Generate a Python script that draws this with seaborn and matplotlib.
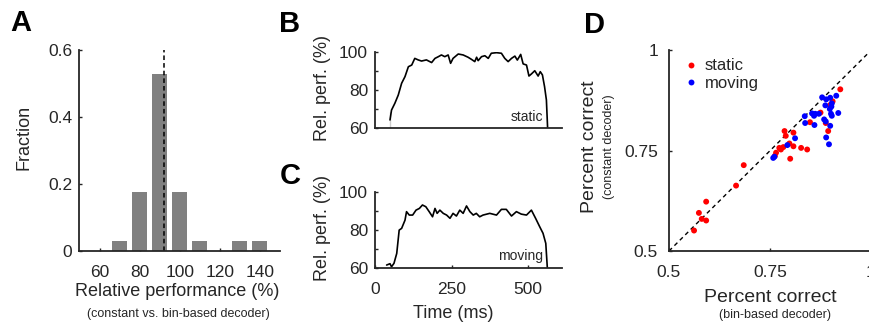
import numpy as np
import pandas as pd
import matplotlib
matplotlib.use("Agg")
import matplotlib.pyplot as plt
import seaborn as sns

# ---- A: distribution of relative performance ----
perf_bins = [60, 70, 80, 90, 100, 110, 120, 130, 140]
perf_counts = [0, 1, 6, 18, 6, 1, 0, 1, 1]
perf_median = 92.2

# ---- B: relative performance over time, static stimuli ----
static_t = [49, 49, 54, 65, 76, 87, 98, 109, 120, 130, 141, 152, 168, 185, 196,
            207, 217, 228, 239, 247, 255, 272, 288, 304, 315, 326, 332, 337, 348,
            359, 370, 380, 397, 413, 424, 435, 446, 457, 465, 476, 484, 495, 503,
            511, 522, 533, 540, 547, 554, 560, 564]
static_v = [60, 68.8, 69.6, 73.2, 77.5, 83.7, 87.2, 92.4, 93.3, 96.8, 96.0, 95.4,
            96.0, 94.6, 96.8, 97.7, 98.6, 97.7, 98.6, 94.2, 96.8, 99.1, 98.6, 97.4,
            96.3, 95.1, 97.4, 95.6, 97.7, 98.2, 96.8, 99.5, 99.8, 99.5, 96.8, 95.1,
            96.8, 98.0, 95.9, 98.9, 93.9, 93.3, 87.5, 88.6, 90.3, 87.5, 89.8, 88.1,
            81.9, 74.9, 60]

# ---- C: relative performance over time, moving stimuli ----
moving_t = [38, 49, 54, 62, 71, 79, 87, 98, 103, 112, 123, 134, 145, 155, 166,
            177, 188, 196, 203, 212, 223, 234, 245, 255, 266, 277, 288, 299, 310,
            321, 331, 342, 353, 375, 397, 413, 429, 446, 462, 478, 495, 511, 525,
            538, 549, 558, 563]
moving_v = [61.4, 62.1, 60.5, 62.3, 67.5, 79.8, 80.7, 85.0, 89.5, 87.7, 87.7, 90.3,
            91.2, 93.0, 92.1, 89.5, 86.8, 91.2, 88.6, 90.3, 88.6, 87.7, 86.0, 88.6,
            87.2, 90.3, 88.6, 92.5, 89.5, 87.7, 88.6, 86.8, 87.7, 88.6, 87.7, 90.7,
            90.7, 87.2, 89.5, 88.2, 87.7, 90.3, 85.9, 81.6, 78.1, 72.8, 60]

# ---- D: percent correct, bin-based vs constant decoder ----
static_bin = [0.562, 0.574, 0.592, 0.581, 0.592, 0.666, 0.685,
              0.924, 0.905, 0.899, 0.849, 0.888, 0.894, 0.786, 0.789, 0.808, 0.798,
              0.808, 0.827, 0.842, 0.800, 0.773, 0.777, 0.765, 0.762, 0.783, 0.875]
static_const = [0.551, 0.595, 0.623, 0.580, 0.576, 0.663, 0.714,
                0.903, 0.873, 0.864, 0.821, 0.819, 0.799, 0.799, 0.787, 0.795, 0.768,
                0.761, 0.757, 0.753, 0.730, 0.757, 0.753, 0.745, 0.737, 0.759, 0.845]
moving_bin = [0.879, 0.889, 0.899, 0.914, 0.903, 0.887, 0.902, 0.898, 0.919, 0.901,
              0.903, 0.854, 0.862, 0.871, 0.859, 0.836, 0.837, 0.860, 0.884, 0.888,
              0.899, 0.889, 0.896, 0.812, 0.793, 0.761, 0.758]
moving_const = [0.883, 0.878, 0.882, 0.887, 0.868, 0.863, 0.860, 0.854, 0.844, 0.842,
                0.837, 0.843, 0.842, 0.842, 0.837, 0.836, 0.819, 0.814, 0.828, 0.823,
                0.812, 0.783, 0.766, 0.781, 0.764, 0.735, 0.732]

sns.set_theme(style="white")
FONT = ["Liberation Sans", "DejaVu Sans"]
plt.rcParams["font.family"] = FONT
INK = "#262626"
plt.rcParams.update({
    "axes.edgecolor": INK, "axes.linewidth": 1.3,
    "xtick.color": INK, "ytick.color": INK,
    "xtick.labelcolor": INK, "ytick.labelcolor": INK,
    "xtick.direction": "in", "ytick.direction": "in",
    "xtick.major.size": 2.5, "ytick.major.size": 2.5,
    "xtick.minor.size": 2.5, "ytick.minor.size": 2.5,
    "xtick.major.width": 1.0, "ytick.major.width": 1.0,
    "xtick.labelsize": 12.5, "ytick.labelsize": 12.5,
    "xtick.bottom": True, "ytick.left": True,
})

W, H = 870, 329
fig = plt.figure(figsize=(W / 100, H / 100), dpi=100)


def box(x0, y0, x1, y1):
    """Axes rectangle from pixel corners (top-left origin)."""
    return [x0 / W, 1 - y1 / H, (x1 - x0) / W, (y1 - y0) / H]


def ftext(px, py, s, **kw):
    fig.text(px / W, 1 - py / H, s, color=INK, **kw)


def style(ax):
    sns.despine(ax=ax)
    ax.tick_params(axis="x", pad=10)
    ax.tick_params(axis="y", pad=5)


# ---------- A ----------
axA = fig.add_axes(box(79, 50, 280, 251))
hist_df = pd.DataFrame({"bin": perf_bins,
                        "fraction": np.array(perf_counts) / sum(perf_counts)})
sns.barplot(data=hist_df, x="bin", y="fraction", native_scale=True, width=0.75,
            color="#808080", saturation=1, edgecolor="none", errorbar=None, ax=axA)
axA.plot([perf_median, perf_median], [0, 0.6], ls=(0, (3, 2)), color="black", lw=1.1)
axA.set_xlim(49.5, 150)
axA.set_ylim(0, 0.6)
axA.set_xticks([60, 80, 100, 120, 140])
axA.set_yticks([0, 0.2, 0.4, 0.6])
axA.set_yticklabels(["0", "0.2", "0.4", "0.6"])
axA.set_xlabel("")
axA.set_ylabel("")
style(axA)

ftext(24, 137, "Fraction", fontsize=13, rotation=90, ha="center", va="center")
ftext(177, 291, "Relative performance (%)", fontsize=13, ha="center", va="center")
ftext(178, 314, "(constant vs. bin-based decoder)", fontsize=9, ha="center", va="center")

# ---------- B and C ----------
def time_panel(rect, t, v, tag, show_x):
    ax = fig.add_axes(rect)
    sns.lineplot(x=t, y=v, color="black", lw=1.2, sort=False, ax=ax)
    ax.set_xlim(0, 610)
    ax.set_ylim(60, 100)
    ax.set_yticks([60, 80, 100])
    ax.set_yticks([70, 90], minor=True)
    ax.tick_params(axis="y", which="minor", left=True, direction="in", length=2.5)
    ax.set_xticks([0, 250, 500])
    if not show_x:
        ax.set_xticks([])
    ax.text(548, 62.3, tag, fontsize=10, ha="right", va="bottom", color=INK)
    style(ax)
    return ax


axB = time_panel(box(375, 52.3, 561.7, 128.3), static_t, static_v, "static", False)
axC = time_panel(box(375, 191.7, 561.7, 267.7), moving_t, moving_v, "moving", True)

ftext(323, 88, "Rel. perf. (%)", fontsize=13, rotation=90, ha="center", va="center")
ftext(323, 228, "Rel. perf. (%)", fontsize=13, rotation=90, ha="center", va="center")
ftext(453, 313, "Time (ms)", fontsize=13, ha="center", va="center")

# ---------- D ----------
axD = fig.add_axes(box(669, 50.4, 871, 251))
scatter_df = pd.DataFrame({
    "bin": static_bin + moving_bin,
    "const": static_const + moving_const,
    "stim": ["static"] * len(static_bin) + ["moving"] * len(moving_bin),
})
axD.plot([0.5, 1.0], [0.5, 1.0], ls=(0, (3, 2.5)), color="black", lw=1.0, zorder=1)
sns.scatterplot(data=scatter_df, x="bin", y="const", hue="stim",
                palette={"static": "#ff0000", "moving": "#0000ff"},
                s=18, linewidth=0, ax=axD, zorder=3)
axD.set_xlim(0.5, 1.0)
axD.set_ylim(0.5, 1.0)
axD.set_xticks([0.5, 0.75, 1.0])
axD.set_xticklabels(["0.5", "0.75", "1"])
axD.set_yticks([0.5, 0.75, 1.0])
axD.set_yticklabels(["0.5", "0.75", "1"])
axD.set_xlabel("")
axD.set_ylabel("")
style(axD)
axD.tick_params(axis="y", pad=8)
leg = axD.legend(loc="upper left", bbox_to_anchor=(0.02, 1.01), frameon=False,
                 fontsize=12, handletextpad=0.3, labelspacing=0.15,
                 handlelength=1.0, borderaxespad=0.2, markerscale=1.0)
for txt in leg.get_texts():
    txt.set_color(INK)

ftext(590, 147, "Percent correct", fontsize=14, rotation=90, ha="center", va="center")
ftext(609, 147, "(constant decoder)", fontsize=9, rotation=90, ha="center", va="center")
ftext(770, 297, "Percent correct", fontsize=14, ha="center", va="center")
ftext(775, 315, "(bin-based decoder)", fontsize=9, ha="center", va="center")

# ---------- panel letters ----------
for letter, px, py in [("A", 21, 23), ("B", 290, 24), ("C", 290, 176), ("D", 595, 25)]:
    fig.text(px / W, 1 - py / H, letter, fontsize=21, fontweight="bold",
             ha="center", va="center", color="black")

fig.savefig("out.png", dpi=100)
